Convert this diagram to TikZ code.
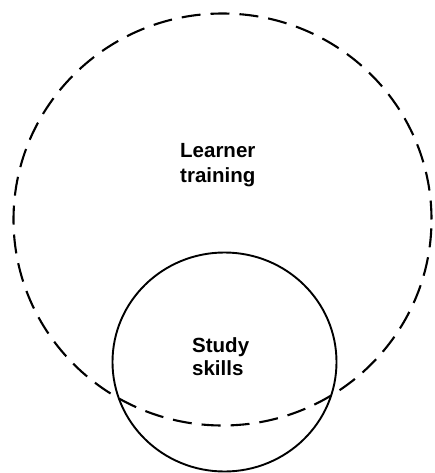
\documentclass[tikz,border=0pt]{standalone}
\usepackage{fontspec}
\setmainfont{Liberation Sans}
\usetikzlibrary{shapes.geometric}
\begin{document}
\begin{tikzpicture}[x=1pt,y=-1pt,
  setbox/.style={ellipse, draw=black, inner sep=0pt},
  outerset/.style={setbox, line width=2.1pt, dash pattern=on 19pt off 10pt},
  innerset/.style={setbox, line width=1.9pt},
  lbl/.style={align=left, anchor=north west, inner sep=0pt,
    font=\bfseries\fontsize{20.5}{25}\selectfont}]
\useasboundingbox (0,0) rectangle (434,473);
\node[outerset, minimum width=418pt, minimum height=412pt] (lt) at (222.5,219.5) {};
\node[innerset, minimum width=224pt, minimum height=219pt] (ss) at (224.5,362) {};
\node[lbl] (ltlabel) at (180,143) {Learner\\training};
\node[lbl, font=\bfseries\fontsize{20.5}{23}\selectfont] (sslabel) at (192,337) {Study\\skills};
\end{tikzpicture}
\end{document}
